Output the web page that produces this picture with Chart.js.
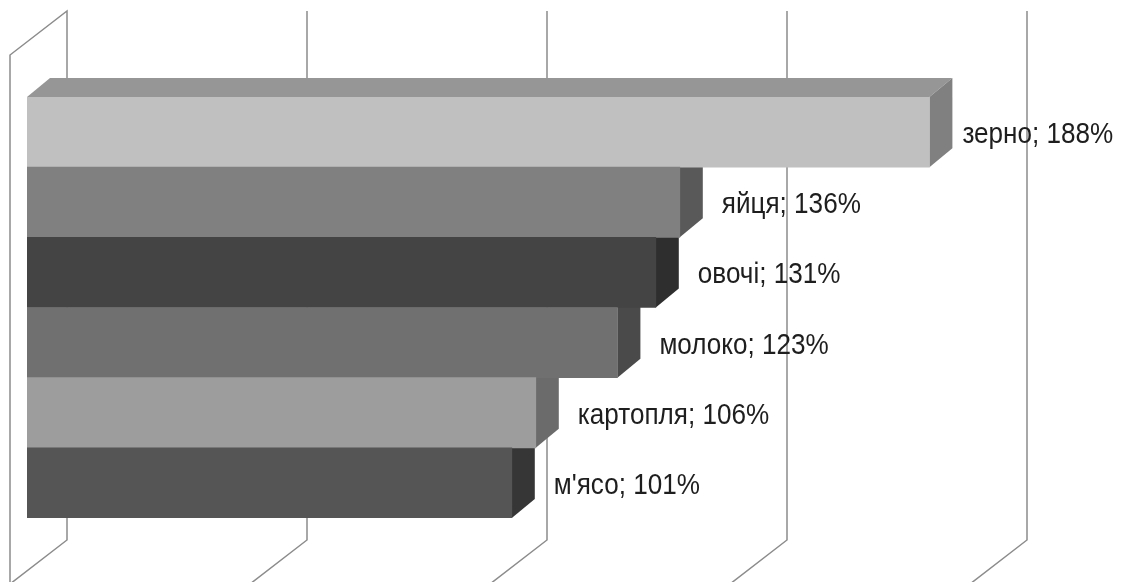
<!DOCTYPE html>
<html>
<head>
<meta charset="utf-8">
<script src="https://cdn.jsdelivr.net/npm/chart.js@4.4.1/dist/chart.umd.min.js"></script>
<style>
  html, body { margin: 0; padding: 0; background: #ffffff; }
  #wrap { width: 1131px; height: 582px; position: relative; }
</style>
</head>
<body>
<div id="wrap"><canvas id="c" width="1131" height="582"></canvas></div>
<script>
// ---- data ----
const categories = ["зерно", "яйця", "овочі", "молоко", "картопля", "м'ясо"];
const values = [188, 136, 131, 123, 106, 101];
const tickValues = [0, 50, 100, 150, 200];
const frontColors = ["#c0c0c0", "#808080", "#444444", "#707070", "#9d9d9d", "#555555"];
const sideColors  = ["#808080", "#595959", "#2e2e2e", "#4a4a4a", "#6b6b6b", "#363636"];
const topColors   = ["#969696", "#666666", "#333333", "#555555", "#7a7a7a", "#3e3e3e"];

// 3D geometry (pixels)
const BAR_DX = 23, BAR_DY = -19;
const WALL_BACK_DX = 40, WALL_BACK_DY = -13;
const WALL_FRONT_DX = -17, WALL_FRONT_DY = 31;
const BACK_TOP = 11, BACK_BOTTOM = 540;

const threeD = {
  id: 'threeD',
  beforeDatasetsDraw(chart) {
    const ctx = chart.ctx;
    const xs = chart.scales.x;
    const meta = chart.getDatasetMeta(0);
    ctx.save();
    ctx.strokeStyle = '#8c8c8c';
    ctx.lineWidth = 1.5;
    tickValues.forEach((v, i) => {
      const xf = xs.getPixelForValue(v);
      const xb = xf + WALL_BACK_DX;
      const frontX = xf + WALL_FRONT_DX;
      ctx.beginPath();
      if (i === 0) {
        const yTopFront = BACK_TOP + (WALL_FRONT_DY - WALL_BACK_DY);
        ctx.moveTo(frontX, 590);
        ctx.lineTo(frontX, yTopFront);
        ctx.lineTo(xb, BACK_TOP);
      } else {
        ctx.moveTo(xb, BACK_TOP);
      }
      ctx.lineTo(xb, BACK_BOTTOM);
      const dx = WALL_FRONT_DX - WALL_BACK_DX, dy = WALL_FRONT_DY - WALL_BACK_DY;
      ctx.lineTo(xb + dx * 1.1, BACK_BOTTOM + dy * 1.1);
      ctx.stroke();
    });
    for (let i = meta.data.length - 1; i >= 0; i--) {
      const bar = meta.data[i];
      const p = bar.getProps(['x', 'y', 'base', 'height'], true);
      const top = p.y - p.height / 2, bottom = p.y + p.height / 2;
      const x0 = p.base, x1 = p.x;
      ctx.fillStyle = topColors[i];
      ctx.beginPath();
      ctx.moveTo(x0, top);
      ctx.lineTo(x0 + BAR_DX, top + BAR_DY);
      ctx.lineTo(x1 + BAR_DX, top + BAR_DY);
      ctx.lineTo(x1, top);
      ctx.closePath();
      ctx.fill();
      ctx.fillStyle = sideColors[i];
      ctx.beginPath();
      ctx.moveTo(x1, top);
      ctx.lineTo(x1 + BAR_DX, top + BAR_DY);
      ctx.lineTo(x1 + BAR_DX, bottom + BAR_DY);
      ctx.lineTo(x1, bottom);
      ctx.closePath();
      ctx.fill();
    }
    ctx.restore();
  },
  afterDatasetsDraw(chart) {
    const ctx = chart.ctx;
    const meta = chart.getDatasetMeta(0);
    const SX = 0.9;
    ctx.save();
    ctx.fillStyle = '#1e1e1e';
    ctx.font = '29px "Liberation Sans", Arial, sans-serif';
    ctx.textAlign = 'left';
    ctx.textBaseline = 'middle';
    ctx.scale(SX, 1);
    meta.data.forEach((bar, i) => {
      const p = bar.getProps(['x', 'y'], true);
      const off = i === 0 ? 10 : 19;
      ctx.fillText(categories[i] + '; ' + values[i] + '%', (p.x + BAR_DX + off) / SX, p.y + 3);
    });
    ctx.restore();
  }
};

new Chart(document.getElementById('c'), {
  type: 'bar',
  data: {
    labels: categories,
    datasets: [{
      data: values,
      backgroundColor: frontColors,
      borderWidth: 0,
      categoryPercentage: 1.0,
      barPercentage: 1.0
    }]
  },
  options: {
    indexAxis: 'y',
    responsive: false,
    animation: false,
    layout: { padding: { left: 27, right: 144, top: 97, bottom: 64 } },
    scales: {
      x: { display: false, min: 0, max: 200, ticks: { stepSize: 50 } },
      y: { display: false }
    },
    plugins: { legend: { display: false }, tooltip: { enabled: false } }
  },
  plugins: [threeD]
});
</script>
</body>
</html>
